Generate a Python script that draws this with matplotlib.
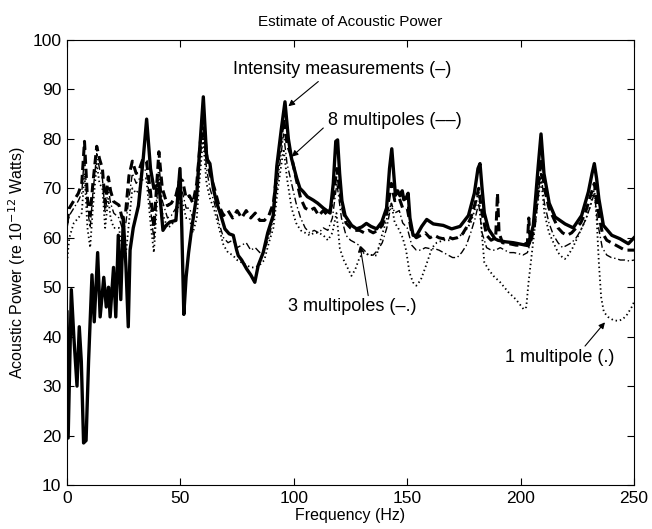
import numpy as np
import matplotlib
matplotlib.use("Agg")
import matplotlib.pyplot as plt

plt.rcParams["font.family"] = ["Liberation Sans", "DejaVu Sans"]

# (frequency Hz, power dB re 1e-12 W)
intensity = [
    (0, 45), (0.5, 19.5), (1.9, 49.5), (3.0, 40), (4.4, 30), (5.4, 42), (6.3, 35),
    (7.3, 18.5), (8.4, 19), (9.5, 35), (11, 52.5), (12, 43), (13.5, 57), (14.6, 44),
    (16.2, 52), (17.3, 46), (18.3, 50), (19, 44), (20.5, 54), (21.5, 44), (22.6, 60.5),
    (23.7, 47.5), (24.8, 64), (26, 54), (27, 42), (27.8, 57.5), (29.2, 62), (31.5, 66.5),
    (33.6, 76), (35.1, 84), (36.8, 74), (38.3, 70), (40.5, 71), (42.3, 61.5), (43.7, 62.5),
    (45.4, 63.2), (48, 63.5), (49.8, 74), (50.6, 62), (51.5, 44.5), (52.5, 52), (53.6, 57),
    (55, 62), (57.2, 68.6), (58.5, 78), (60.1, 88.5), (61.6, 76), (63, 75), (64.5, 70),
    (66, 67), (67.4, 65.2), (69.6, 61.8), (71.5, 60.8), (73.3, 60.5), (74.8, 57.5),
    (75.5, 56.4), (77, 55.5), (79.2, 53.7), (81, 52.5), (82.8, 51), (84.3, 54.4),
    (86.5, 57), (88.5, 61), (90.9, 64.5), (92.5, 74.5), (94.5, 82), (96.1, 87.5),
    (97.6, 80), (99, 76), (101.3, 72), (102.7, 70), (104.2, 69.3), (106, 68.3),
    (108.6, 67.6), (110.5, 67), (113, 66), (114.5, 65.5), (116, 65), (117.4, 71),
    (118.5, 79.5), (119.3, 79.8), (120.2, 73), (121.2, 67.5), (122.6, 64.5), (124, 63.5),
    (125.5, 62.5), (127.7, 61.8), (130, 62.2), (132, 62.9), (134, 62.3), (136.5, 61.8),
    (138.8, 63.2), (140.9, 66), (142.2, 74), (143.2, 78), (144.2, 72), (144.8, 68.6),
    (145.8, 69.5), (146.8, 68.5), (147.8, 69.5), (148.5, 67.7), (149.5, 68), (150.4, 69),
    (151.2, 64), (152.6, 60.5), (154.2, 60.5), (156.4, 62.3), (158.6, 63.7), (161.5, 62.8),
    (165.9, 62.5), (169.6, 61.8), (173.3, 62.3), (177, 64.5), (179.6, 69), (181.2, 74),
    (182.1, 75), (183, 70), (184, 65), (185.8, 61.8), (188.7, 59.8), (190, 59.5),
    (193.1, 59.2), (196.8, 59), (199, 58.8), (203.4, 58.4), (205.6, 62.5), (207.8, 74.7),
    (209, 81), (210.3, 73), (212.6, 67), (215.2, 64.2), (219.6, 62.8), (223.2, 62),
    (226.9, 64.5), (229.9, 69.3), (231.5, 73), (232.5, 75), (233.5, 72), (234.5, 67.9),
    (236.5, 62.5), (240.2, 60.5), (243.8, 59.8), (247.5, 58.8), (250, 60),
]

multipole8 = [
    (0, 63), (1, 66), (3, 67.5), (5, 69), (6.5, 71), (7.7, 79.5), (9, 68), (10.2, 64.5),
    (11.4, 71), (13.1, 78.5), (14.3, 76), (15.6, 74), (16.8, 67), (18.2, 72.3), (19.2, 69.5),
    (20.6, 67.3), (22.9, 66.6), (24.3, 64), (25.8, 65), (27.3, 72.5), (28.8, 75.5),
    (30.5, 73), (32, 74), (33.5, 76), (35, 75.5), (36.8, 69.3), (38.3, 62), (40.5, 77.4),
    (42, 70), (44.3, 66.5), (46, 67), (48, 68.5), (49.8, 72), (51, 71.5), (52.5, 68),
    (54, 68.5), (55.5, 67), (57.2, 71), (58.5, 78), (60, 85), (61.5, 77), (63, 73),
    (65, 70), (67, 66.5), (69, 64.5), (71, 65.5), (73, 64), (75, 65.5), (77, 64),
    (79, 65.5), (81, 64), (83, 65), (85, 63.5), (87, 63.5), (89, 64.5), (91, 67),
    (93, 75), (95.5, 84), (97, 79), (99, 76.4), (101, 72), (103, 68), (105, 66),
    (107, 65.5), (109, 66), (111, 64.5), (113, 65.5), (115, 64.5), (117, 67), (119, 74),
    (121, 67), (123, 63), (125, 62), (127, 61.5), (129, 61.5), (131, 61), (133, 61.5),
    (135, 61), (137, 61.5), (139, 62.5), (141, 65), (143, 71), (144.5, 67.5), (146.5, 68),
    (148, 66), (150, 66), (152, 61), (154, 60), (156, 60.5), (158, 61), (160, 60),
    (162, 60.5), (164, 60), (166, 59.8), (168, 60.2), (170, 59.8), (172, 60), (174, 60.5),
    (176, 62), (178, 64), (180, 67), (181.5, 70), (183, 65), (185, 60.5), (187, 59.5),
    (189, 60), (189.8, 69), (190.5, 61), (192, 59), (195, 58.8), (198, 58.5), (201, 58.5),
    (203, 59), (203.6, 64), (204.3, 59), (206, 62), (207.8, 70), (209, 76), (210.5, 70),
    (212.5, 66), (214.5, 64), (216.5, 62), (218.5, 61), (220.5, 60.5), (222.5, 61),
    (224.5, 62), (226.5, 63), (228.5, 65), (230.5, 68), (232.5, 71), (234, 66), (236, 61),
    (238, 59.5), (240, 59), (242, 58.5), (244, 58), (246, 57.5), (248, 57.5), (250, 57.5),
]

multipole3 = [
    (0, 62), (1, 64.5), (3, 66), (5, 67.5), (6.5, 69), (7.7, 77), (9, 66), (10.2, 62),
    (11.4, 69), (13.1, 77), (14.3, 74), (15.6, 72), (16.8, 65), (18.2, 70), (19.2, 67),
    (20.6, 65), (22.9, 64), (24.3, 62), (25.8, 62.5), (27.3, 68), (28.8, 73), (30.5, 71),
    (32, 72), (33.5, 74), (35, 73.5), (36.8, 66), (38.3, 59.5), (40.5, 75), (42, 67.5),
    (44.3, 64), (46, 64.5), (48, 66), (49.8, 70), (51, 69), (52.5, 66), (54, 66),
    (55.5, 64), (57.2, 68), (58.5, 75), (60, 82), (61.5, 74), (63, 70), (65, 67),
    (67, 63), (69, 60), (71, 59), (73, 59.5), (75, 58), (77, 58.5), (79, 59), (81, 57.5),
    (83, 58), (85, 57), (87, 57.5), (89, 60), (91, 64), (93, 72), (95.5, 81), (97, 75),
    (99, 71), (101, 67), (103, 64), (105, 62), (107, 61), (109, 61.5), (111, 61),
    (113, 62), (115, 61.5), (117, 64), (119, 71), (121, 64), (123, 60.5), (125, 59.5),
    (127, 59), (129, 58.4), (131, 57.5), (133, 56.5), (135, 56.5), (137, 57.5), (139, 59),
    (141, 62), (143, 67), (144.5, 65), (146.5, 65.5), (148, 63), (150, 62), (152, 58.5),
    (154, 57.5), (156, 57.5), (158, 58), (160, 57.8), (162, 57.8), (164, 57.5), (166, 57),
    (168, 56.5), (170, 56), (172, 56), (174, 57), (176, 58.4), (178, 61), (180, 64),
    (181.5, 67), (183, 61), (185, 58), (187, 57.5), (189, 57.5), (191, 58), (193, 57.5),
    (195, 57), (197, 57), (199, 56.8), (201, 56.5), (203, 57), (205, 60), (207, 67),
    (209, 73), (210.5, 67), (212.5, 63), (214.5, 60.5), (216.5, 59), (218.5, 58),
    (220.5, 58.5), (222.5, 59), (224.5, 60), (226.5, 61.5), (228.5, 63.5), (230.5, 66),
    (232.5, 69), (234, 63), (236, 58), (238, 56.5), (240, 56), (242, 55.8), (244, 55.5),
    (246, 55.5), (248, 55.3), (250, 55.5),
]

multipole1 = [
    (0, 55), (1, 60), (3, 63), (5, 64), (6.5, 65), (7.7, 73), (9, 62), (10.2, 58),
    (11.4, 66), (13.1, 75), (14.3, 71), (15.6, 70), (16.8, 62), (18.2, 68), (19.2, 64),
    (20.6, 62), (22.9, 62), (24.3, 58), (25.8, 56), (27.3, 63), (28.8, 70), (30.5, 69),
    (32, 70), (33.5, 72), (35, 72), (36.8, 63), (38.3, 57), (40.5, 73), (42, 65),
    (44.3, 62), (46, 62.5), (48, 64), (49.8, 68), (51, 67), (52.5, 64), (54, 64),
    (55.5, 61), (57.2, 64), (58.5, 72), (60, 80), (61.5, 71), (63, 68), (65, 65.5),
    (67, 62), (69, 58.5), (71, 57), (73, 56.5), (75, 55.5), (77, 55), (79, 54.5),
    (81, 54), (83, 54), (85, 54.5), (87, 55.5), (89, 59), (91, 62), (93, 70), (95.5, 78),
    (97, 72), (99, 66), (101, 63), (103, 61.5), (105, 61), (107, 60.5), (109, 61),
    (111, 61), (113, 60.5), (115, 59.5), (117, 61), (118.8, 65), (120.3, 57.8), (122, 55.5),
    (123.2, 54.4), (125.4, 52.3), (127, 53.5), (129, 56), (131, 57), (133, 56.5),
    (135, 56.5), (136.5, 56.4), (138.5, 60), (140.5, 63), (143, 67), (144.5, 63), (146, 62),
    (148, 60), (149.5, 57.5), (151, 53), (152.5, 51), (154, 50.3), (156, 51.5), (158, 54),
    (159.5, 56), (161, 58), (163, 59), (166, 59.5), (169, 59.5), (172, 60), (175, 61),
    (178, 63), (180, 66), (181.5, 70), (182.5, 63), (184, 55), (186, 53.5), (188, 52.3),
    (191, 51), (194.6, 49), (198, 47.5), (201.4, 45.5), (202.5, 46), (203.5, 51), (205, 57),
    (207, 65), (209, 72), (210.5, 65), (212.5, 61), (214.5, 59), (216.5, 57), (218.5, 56),
    (219.5, 55.7), (221, 56.5), (223, 58), (225, 60), (227, 62), (229, 64), (231, 67),
    (232.5, 70), (233.5, 64), (234.5, 55), (235.5, 48), (236.7, 45), (238.5, 44),
    (241, 43.3), (243, 43.2), (245, 43.5), (247, 44.5), (249, 46), (250, 47),
]

x_ticks = [0, 50, 100, 150, 200, 250]
y_ticks = [10, 20, 30, 40, 50, 60, 70, 80, 90, 100]

# label text, text centre, arrow tail, arrow tip (data coords)
notes = [
    ("Intensity measurements (\u2013)", (121.3, 94.0), (110.8, 91.6), (97.6, 86.6)),
    ("8 multipoles (\u2013\u2013)", (144.6, 83.8), (113.0, 82.2), (99.1, 76.4)),
    ("3 multipoles (\u2013.)", (125.7, 46.0), (132.8, 48.3), (129.2, 58.4)),
    ("1 multipole (.)", (217.4, 35.8), (228.4, 38.1), (237.2, 42.9)),
]

fig = plt.figure(figsize=(6.52, 5.29), dpi=100)
ax = fig.add_axes([0.1028, 0.0832, 0.8696, 0.8412])

curves = [
    (multipole1, dict(lw=1.3, linestyle=(0, (0.8, 1.6)))),
    (multipole3, dict(lw=1.0, linestyle=(0, (5, 2, 1, 2)))),
    (multipole8, dict(lw=2.2, linestyle=(0, (3, 1.6)))),
    (intensity, dict(lw=2.4, linestyle="-")),
]
for data, style in curves:
    f, p = np.array(data).T
    ax.plot(f, p, color="black", **style)

for label, txt, tail, tip in notes:
    ax.text(txt[0], txt[1], label, ha="center", va="center", fontsize=13)
    ax.annotate("", xy=tip, xytext=tail,
                arrowprops=dict(arrowstyle="-|>", lw=0.8, color="black",
                                mutation_scale=9, shrinkA=0, shrinkB=0))

ax.set_xlim(0, 250)
ax.set_ylim(10, 100)
ax.set_xticks(x_ticks)
ax.set_yticks(y_ticks)
ax.tick_params(direction="in", top=True, right=True, length=5, labelsize=12.5, pad=4)
ax.set_xlabel("Frequency (Hz)", fontsize=11.5, labelpad=2)
ax.set_ylabel("Acoustic Power (re 10$^{-12}$ Watts)", fontsize=11.5, labelpad=3)
ax.set_title("Estimate of Acoustic Power", fontsize=11, pad=10)

fig.savefig("out.png", dpi=100)
